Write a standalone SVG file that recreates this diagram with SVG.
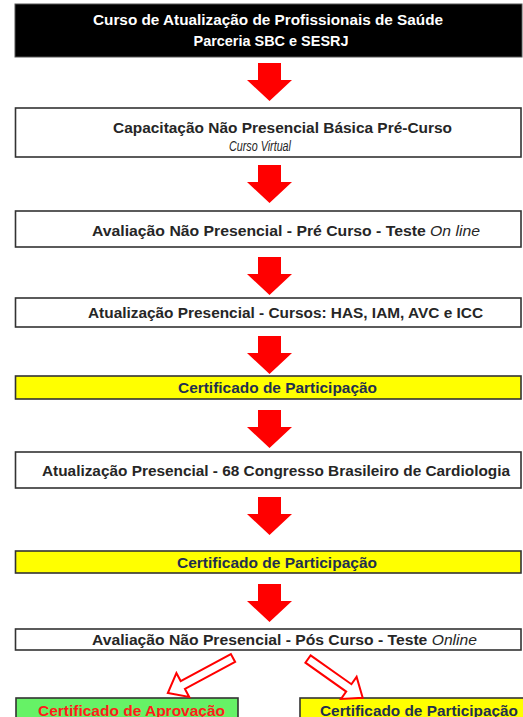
<svg xmlns="http://www.w3.org/2000/svg" width="523" height="717" viewBox="0 0 523 717">
<defs>
<style>
.box{fill:#ffffff;stroke:#333333;stroke-width:1.6}
.yel{fill:#ffff00;stroke:#333333;stroke-width:1.6}
.grn{fill:#66f266;stroke:#333333;stroke-width:1.6}
.t{font-family:"Liberation Sans",Arial,sans-serif;font-weight:bold;font-size:14px;fill:#262626}
.w{fill:#ffffff}
.y{fill:#1f2f4f}
.r{fill:#ff1a1a}
.it{font-style:italic;font-weight:normal}
.arr{fill:#ff0000}
.harr{fill:#ffffff;stroke:#ff0000;stroke-width:2;stroke-linejoin:miter}
</style>
<path id="down" d="M258,0 H281 V17 H292 L269.5,38 L247,17 H258 Z"/>
</defs>
<rect width="523" height="717" fill="#ffffff"/>

<g id="header">
<rect x="15" y="4" width="507" height="53" fill="#000000" stroke="#555555" stroke-width="1"/>
<text class="t w" x="268" y="25" text-anchor="middle" textLength="350" lengthAdjust="spacingAndGlyphs">Curso de Atualização de Profissionais de Saúde</text>
<text class="t w" x="271" y="46" text-anchor="middle" textLength="155" lengthAdjust="spacingAndGlyphs">Parceria SBC e SESRJ</text>
</g>

<g id="capacitacao">
<rect class="box" x="15.5" y="108" width="505.5" height="49"/>
<text class="t" x="282.5" y="133" text-anchor="middle" textLength="339" lengthAdjust="spacingAndGlyphs">Capacitação Não Presencial Básica Pré-Curso</text>
<text class="t it" x="260" y="151" font-size="11.5" text-anchor="middle" textLength="62" lengthAdjust="spacingAndGlyphs">Curso Virtual</text>
</g>

<g id="avaliacao-pre">
<rect class="box" x="15.5" y="211" width="505.5" height="36"/>
<text class="t" x="92" y="236" textLength="388" lengthAdjust="spacingAndGlyphs">Avaliação Não Presencial - Pré Curso - Teste  <tspan class="it">On line</tspan></text>
</g>

<g id="atualizacao-cursos">
<rect class="box" x="15.5" y="298" width="505.5" height="29"/>
<text class="t" x="88" y="317.5" textLength="395" lengthAdjust="spacingAndGlyphs">Atualização Presencial - Cursos: HAS, IAM, AVC e ICC</text>
</g>

<g id="certificado-participacao-1">
<rect class="yel" x="15.5" y="376" width="505.5" height="23"/>
<text class="t y" x="277.5" y="392.5" text-anchor="middle" textLength="199" lengthAdjust="spacingAndGlyphs">Certificado de Participação</text>
</g>

<g id="atualizacao-congresso">
<rect class="box" x="15.5" y="452" width="505.5" height="36"/>
<text class="t" x="42" y="476" textLength="468" lengthAdjust="spacingAndGlyphs">Atualização Presencial - 68 Congresso Brasileiro de Cardiologia</text>
</g>

<g id="certificado-participacao-2">
<rect class="yel" x="15.5" y="551" width="505.5" height="22"/>
<text class="t y" x="277" y="567.5" text-anchor="middle" textLength="200" lengthAdjust="spacingAndGlyphs">Certificado de Participação</text>
</g>

<g id="avaliacao-pos">
<rect class="box" x="15.5" y="629" width="505.5" height="21"/>
<text class="t" x="92" y="645" textLength="385" lengthAdjust="spacingAndGlyphs">Avaliação Não Presencial - Pós  Curso - Teste <tspan class="it">Online</tspan></text>
</g>

<g id="certificado-aprovacao">
<rect class="grn" x="16" y="698" width="222" height="30"/>
<text class="t r" x="131.5" y="715.5" text-anchor="middle" textLength="187" lengthAdjust="spacingAndGlyphs">Certificado de Aprovação</text>
</g>

<g id="certificado-participacao-3">
<rect class="yel" x="300" y="698" width="230" height="30"/>
<text class="t y" x="320" y="715.5" textLength="198" lengthAdjust="spacingAndGlyphs">Certificado de Participação</text>
</g>

<g id="connectors">
<use href="#down" class="arr" transform="translate(0,63)"/>
<use href="#down" class="arr" transform="translate(0,165)"/>
<use href="#down" class="arr" transform="translate(0,257)"/>
<use href="#down" class="arr" transform="translate(0,336)"/>
<use href="#down" class="arr" transform="translate(0,410)"/>
<use href="#down" class="arr" transform="translate(0,497)"/>
<use href="#down" class="arr" transform="translate(0,584)"/>
<polygon class="harr" points="0,-4.5 57,-4.5 57,-13.5 74,0 57,13.5 57,4.5 0,4.5" transform="translate(233,658) rotate(151.7)"/>
<polygon class="harr" points="0,-4.5 50,-4.5 50,-13.5 67,0 50,13.5 50,4.5 0,4.5" transform="translate(308,659) rotate(35.3)"/>
</g>
</svg>
